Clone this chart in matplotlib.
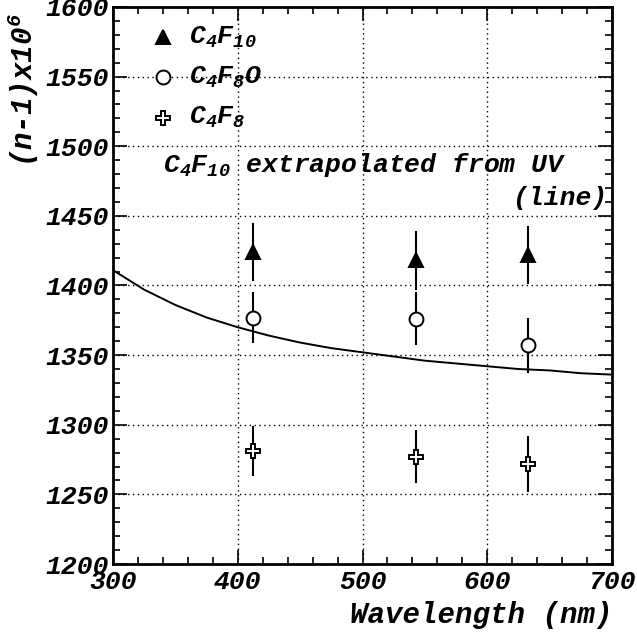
import numpy as np
import matplotlib
matplotlib.use("Agg")
from matplotlib import pyplot as plt
from matplotlib.ticker import MultipleLocator

# measured points (nm, (n-1)x10^6, error)
wl = [412, 543, 633]
c4f10 = [1424, 1418, 1422]
c4f10_err = [21, 21, 21]
c4f8o = [1377, 1376, 1357]
c4f8o_err = [18, 19, 20]
c4f8 = [1281, 1277, 1272]
c4f8_err = [18, 19, 20]

# C4F10 extrapolated from UV (line)
uv_wl = [300, 325, 350, 375, 400, 425, 450, 475, 500, 525, 550, 575, 600, 625, 650, 675, 700]
uv_n = [1411, 1397, 1386, 1377, 1370, 1364, 1359, 1355, 1352, 1349, 1346, 1344, 1342, 1340, 1339, 1337, 1336]

font = "Liberation Mono"
plt.rcParams['font.family'] = font
plt.rcParams['font.weight'] = 'bold'
plt.rcParams['font.style'] = 'italic'
plt.rcParams['axes.labelweight'] = 'bold'
plt.rcParams['mathtext.fontset'] = 'custom'
plt.rcParams['mathtext.rm'] = font + ':bold:italic'
plt.rcParams['mathtext.it'] = font + ':bold:italic'
plt.rcParams['mathtext.bf'] = font + ':bold:italic'

fig = plt.figure(figsize=(6.37, 6.33), dpi=100)
ax = fig.add_axes([0.1774, 0.109, 0.7834, 0.880])

ax.plot(uv_wl, uv_n, color="black", lw=1.4)

ekw = dict(ls="none", ecolor="black", elinewidth=1.5, capsize=0, color="black", ms=10, mew=1.4)
ax.errorbar(wl, c4f10, yerr=c4f10_err, marker="^", mfc="black", **ekw)
ax.errorbar(wl, c4f8o, yerr=c4f8o_err, marker="o", mfc="white", **ekw)
ax.errorbar(wl, c4f8, yerr=c4f8_err, marker="P", mfc="white", **ekw)

ax.set_xlim(300, 700)
ax.set_ylim(1200, 1600)
ax.xaxis.set_major_locator(MultipleLocator(100))
ax.xaxis.set_minor_locator(MultipleLocator(20))
ax.yaxis.set_major_locator(MultipleLocator(50))
ax.yaxis.set_minor_locator(MultipleLocator(10))
ax.grid(True, which="major", color="black", ls=(0, (1, 2.5)), lw=1.0)
ax.tick_params(which="both", direction="in", top=True, right=True, width=1.2, labelsize=19)
ax.tick_params(which="major", length=10)
ax.tick_params(which="minor", length=5)
ax.tick_params(axis="x", pad=4)
ax.tick_params(axis="y", pad=3)
for s in ax.spines.values():
    s.set_linewidth(2)

# legend, drawn by hand in axes coords
leg = [("^", "black", "C$_4$F$_{10}$"), ("o", "white", "C$_4$F$_8$O"), ("P", "white", "C$_4$F$_8$")]
for i, (m, fc, lab) in enumerate(leg):
    yy = 0.946 - i * 0.0725
    ax.plot([0.1], [yy], marker=m, mfc=fc, mec="black", mew=1.4, ms=10, transform=ax.transAxes, clip_on=False)
    ax.text(0.152, yy, lab, transform=ax.transAxes, fontsize=19, va="center", ha="left")

ax.text(0.1, 0.716, "C$_4$F$_{10}$ extrapolated from UV", transform=ax.transAxes, fontsize=19, va="center", ha="left")
ax.text(0.99, 0.657, "(line)", transform=ax.transAxes, fontsize=19, va="center", ha="right")

ax.set_xlabel("Wavelength (nm)", fontsize=21, loc="right", labelpad=5)
ax.set_ylabel("(n-1)x10$^6$", fontsize=21)
ax.yaxis.set_label_coords(-0.145, 0.85)

fig.savefig("out.png", dpi=100)
